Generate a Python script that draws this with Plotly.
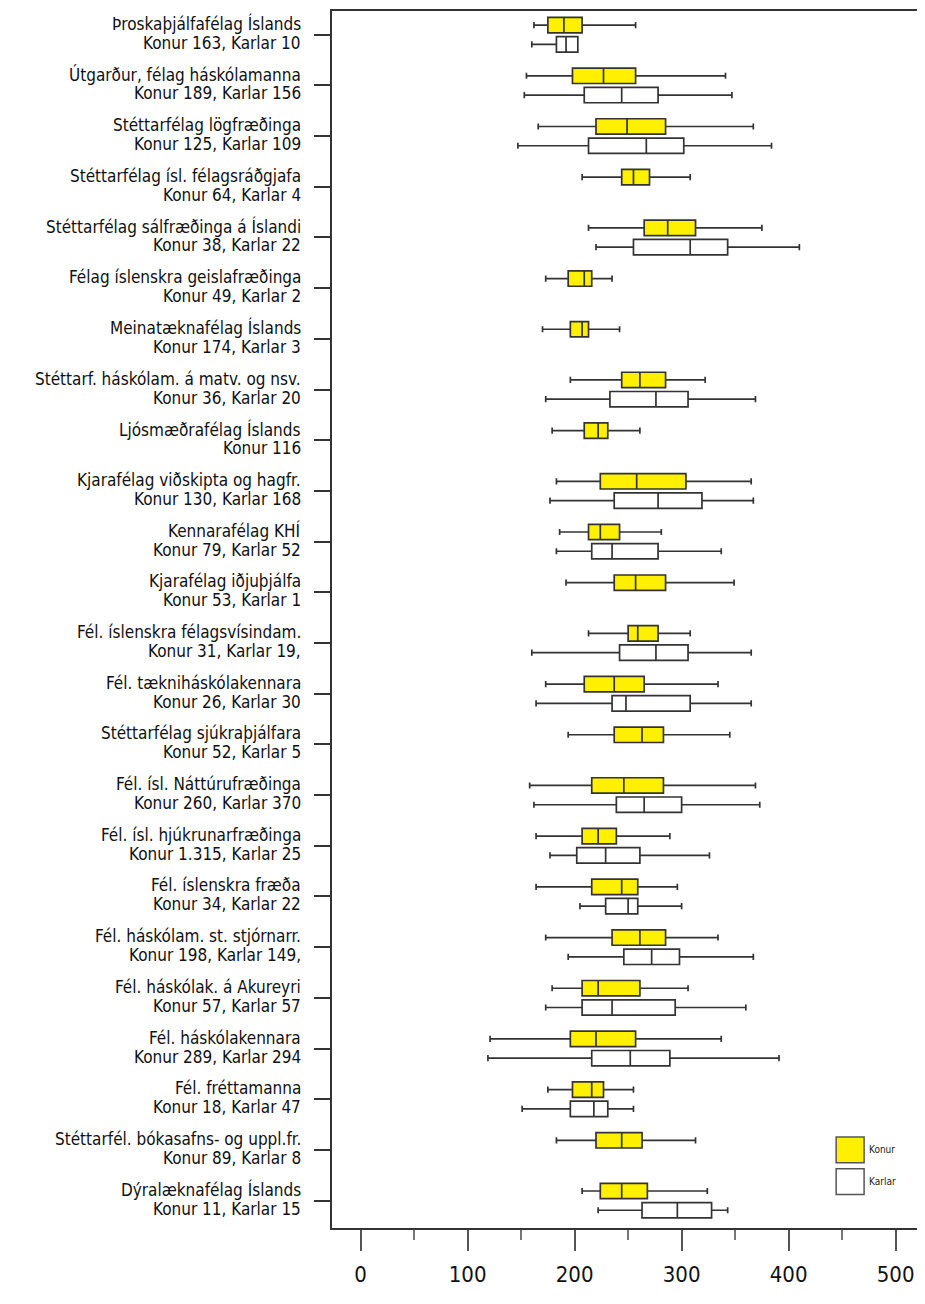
import plotly.graph_objects as go

groups = [
    "Þroskaþjálfafélag Íslands",
    "Útgarður, félag háskólamanna",
    "Stéttarfélag lögfræðinga",
    "Stéttarfélag ísl. félagsráðgjafa",
    "Stéttarfélag sálfræðinga á Íslandi",
    "Félag íslenskra geislafræðinga",
    "Meinatæknafélag Íslands",
    "Stéttarf. háskólam. á matv. og nsv.",
    "Ljósmæðrafélag Íslands",
    "Kjarafélag viðskipta og hagfr.",
    "Kennarafélag KHÍ",
    "Kjarafélag iðjuþjálfa",
    "Fél. íslenskra félagsvísindam.",
    "Fél. tækniháskólakennara",
    "Stéttarfélag sjúkraþjálfara",
    "Fél. ísl. Náttúrufræðinga",
    "Fél. ísl. hjúkrunarfræðinga",
    "Fél. íslenskra fræða",
    "Fél. háskólam. st. stjórnarr.",
    "Fél. háskólak. á Akureyri",
    "Fél. háskólakennara",
    "Fél. fréttamanna",
    "Stéttarfél. bókasafns- og uppl.fr.",
    "Dýralæknafélag Íslands",
]
counts = [
    "Konur 163, Karlar 10",
    "Konur 189, Karlar 156",
    "Konur 125, Karlar 109",
    "Konur 64, Karlar 4",
    "Konur 38, Karlar 22",
    "Konur 49, Karlar 2",
    "Konur 174, Karlar 3",
    "Konur 36, Karlar 20",
    "Konur 116",
    "Konur 130, Karlar 168",
    "Konur 79, Karlar 52",
    "Konur 53, Karlar 1",
    "Konur 31, Karlar 19,",
    "Konur 26, Karlar 30",
    "Konur 52, Karlar 5",
    "Konur 260, Karlar 370",
    "Konur 1.315, Karlar 25",
    "Konur 34, Karlar 22",
    "Konur 198, Karlar 149,",
    "Konur 57, Karlar 57",
    "Konur 289, Karlar 294",
    "Konur 18, Karlar 47",
    "Konur 89, Karlar 8",
    "Konur 11, Karlar 15",
]

# Konur (women) box statistics
konur_low = [162, 155, 166, 207, 213, 173, 170, 196, 179, 183, 186, 192,
             213, 173, 194, 158, 164, 164, 173, 179, 121, 175, 183, 207]
konur_q1 = [175, 198, 220, 244, 265, 194, 196, 244, 209, 224, 213, 237,
            250, 209, 237, 216, 207, 216, 235, 207, 196, 198, 220, 224]
konur_med = [190, 227, 249, 255, 287, 209, 207, 261, 222, 258, 224, 257,
             259, 237, 263, 246, 222, 244, 261, 222, 220, 216, 244, 244]
konur_q3 = [207, 257, 285, 270, 313, 216, 213, 285, 231, 304, 242, 285,
            278, 265, 283, 283, 239, 259, 285, 261, 257, 227, 263, 268]
konur_high = [257, 341, 367, 308, 375, 235, 242, 322, 261, 365, 281, 349,
              308, 334, 345, 369, 289, 296, 334, 306, 337, 255, 313, 324]

# Karlar (men) box statistics (None = not shown)
karlar_low = [160, 153, 147, None, 220, None, None, 173, None, 177, 183, None,
              160, 164, None, 162, 177, 205, 194, 173, 119, 151, None, 222]
karlar_q1 = [183, 209, 213, None, 255, None, None, 233, None, 237, 216, None,
             242, 235, None, 239, 202, 229, 246, 207, 216, 196, None, 263]
karlar_med = [192, 244, 267, None, 308, None, None, 276, None, 278, 235, None,
              276, 248, None, 265, 229, 250, 272, 235, 252, 218, None, 296]
karlar_q3 = [203, 278, 302, None, 343, None, None, 306, None, 319, 278, None,
             306, 308, None, 300, 261, 259, 298, 294, 289, 231, None, 328]
karlar_high = [203, 347, 384, None, 410, None, None, 369, None, 367, 337, None,
               365, 365, None, 373, 326, 300, 367, 360, 391, 255, None, 343]

x_ticks = [0, 100, 200, 300, 400, 500]

FONT = "Liberation Sans Narrow, DejaVu Sans Condensed, Arial Narrow, sans-serif"
YELLOW = "#FFF000"
EDGE = "#333333"

fig = go.Figure()

fig.add_trace(go.Box(
    name="Konur", orientation="h", y=groups,
    q1=konur_q1, median=konur_med, q3=konur_q3,
    lowerfence=konur_low, upperfence=konur_high,
    fillcolor=YELLOW, line=dict(color=EDGE, width=1.7),
    whiskerwidth=0.4, boxpoints=False, showlegend=False,
))

idx = [i for i, v in enumerate(karlar_med) if v is not None]
fig.add_trace(go.Box(
    name="Karlar", orientation="h", y=[groups[i] for i in idx],
    q1=[karlar_q1[i] for i in idx], median=[karlar_med[i] for i in idx],
    q3=[karlar_q3[i] for i in idx],
    lowerfence=[karlar_low[i] for i in idx],
    upperfence=[karlar_high[i] for i in idx],
    fillcolor="white", line=dict(color=EDGE, width=1.7),
    whiskerwidth=0.4, boxpoints=False, showlegend=False,
))

annotations = []
for g, c in zip(groups, counts):
    annotations.append(dict(x=0, xref="paper", y=g, yref="y", xanchor="right",
                            yanchor="middle", xshift=-29, yshift=11, text=g,
                            showarrow=False,
                            font=dict(family=FONT, size=17, color="#111")))
    annotations.append(dict(x=0, xref="paper", y=g, yref="y", xanchor="right",
                            yanchor="middle", xshift=-29, yshift=-8, text=c,
                            showarrow=False,
                            font=dict(family=FONT, size=17, color="#111")))

# legend (drawn manually)
FIG_W = 916
PLOT_W = FIG_W - 324 - 2
shapes = []
leg_items = [("Konur", YELLOW, 0.0747, 0.0536), ("Karlar", "white", 0.0487, 0.0276)]
for name, col, y1, y0 in leg_items:
    shapes.append(dict(type="rect", xref="paper", yref="paper",
                       x0=(837 - 332) / PLOT_W, x1=(865 - 332) / PLOT_W,
                       y0=y0, y1=y1, fillcolor=col, line=dict(color="#555", width=1.5)))
    annotations.append(dict(x=(868 - 332) / PLOT_W, xref="paper", y=(y0 + y1) / 2, yref="paper",
                            xanchor="left", yanchor="middle", text=name, showarrow=False,
                            font=dict(family=FONT, size=10, color="#222")))

# the page adds an 8px body margin; the figure is sized so the page does not scroll
fig.update_layout(
    width=FIG_W, height=1280,
    margin=dict(l=324, r=2, t=1, b=48),
    paper_bgcolor="white", plot_bgcolor="white",
    boxmode="group", boxgap=0.24, boxgroupgap=0.2,
    annotations=annotations, shapes=shapes,
    showlegend=False,
)
fig.update_xaxes(
    range=[-26.7, -26.7 + PLOT_W / 1.072], tickvals=x_ticks, ticktext=[str(v) for v in x_ticks],
    ticks="outside", ticklen=21, tickwidth=1.5, tickcolor="#555",
    minor=dict(dtick=50, tick0=0, ticks="outside", ticklen=10, tickwidth=1.5, tickcolor="#777"),
    showline=True, mirror=True, linecolor=EDGE, linewidth=2,
    showgrid=False, zeroline=False, ticklabelstandoff=5,
    tickfont=dict(family=FONT, size=22, color="#111"),
)
fig.update_yaxes(
    type="category", categoryorder="array", categoryarray=groups,
    range=[23.54, -0.468], showticklabels=False,
    ticks="outside", ticklen=16, tickwidth=1.5, tickcolor=EDGE,
    showline=True, mirror=True, linecolor=EDGE, linewidth=2,
    showgrid=False, zeroline=False,
)

fig.write_html("out.html")
